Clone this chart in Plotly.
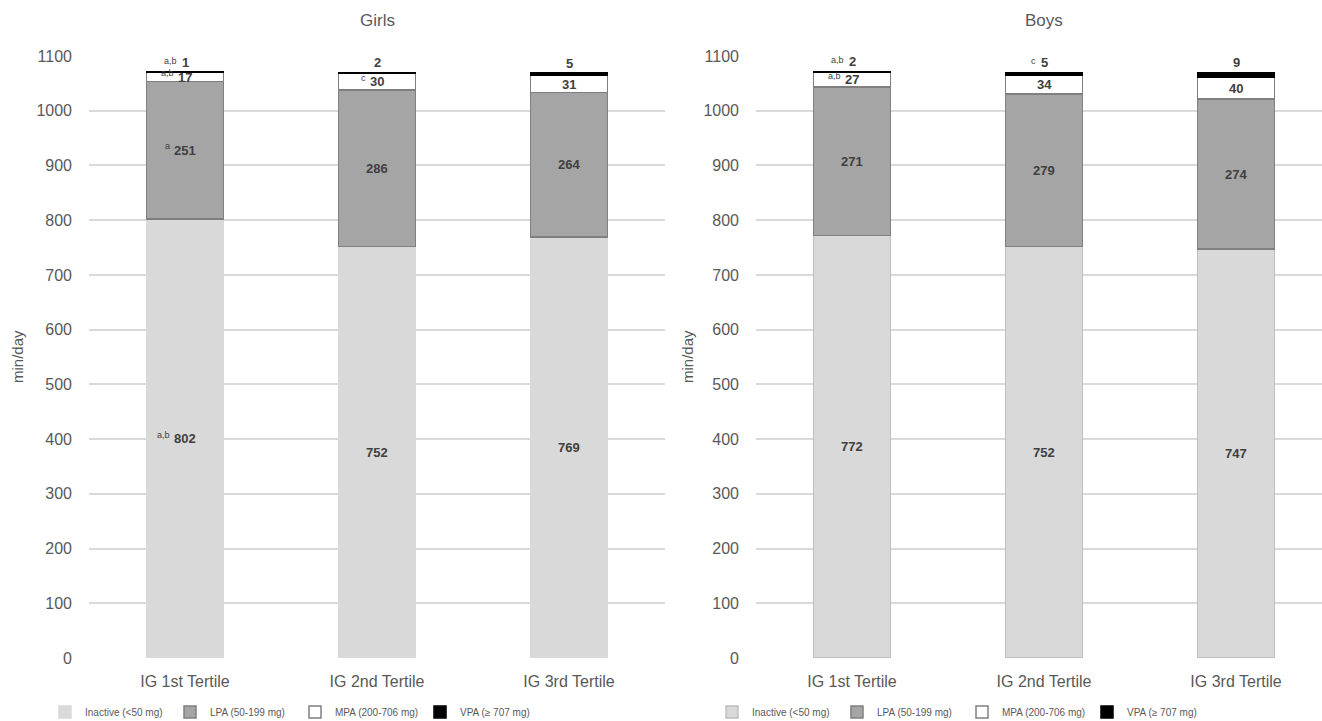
import plotly.graph_objects as go

categories = ["IG 1st Tertile", "IG 2nd Tertile", "IG 3rd Tertile"]
series_names = ["Inactive (&lt;50 mg)", "LPA (50-199 mg)", "MPA (200-706 mg)", "VPA (≥ 707 mg)"]

girls_inactive = [802, 752, 769]
girls_lpa = [251, 286, 264]
girls_mpa = [17, 30, 31]
girls_vpa = [1, 2, 5]

boys_inactive = [772, 752, 747]
boys_lpa = [271, 279, 274]
boys_mpa = [27, 34, 40]
boys_vpa = [2, 5, 9]

girls_sup_inactive = ["a,b", "", ""]
girls_sup_lpa = ["a", "", ""]
girls_sup_mpa = ["a,b", "c", ""]
girls_sup_vpa = ["a,b", "", ""]

boys_sup_inactive = ["", "", ""]
boys_sup_lpa = ["", "", ""]
boys_sup_mpa = ["a,b", "", ""]
boys_sup_vpa = ["a,b", "c", ""]

y_ticks = list(range(0, 1101, 100))

W, H = 1322, 721
FONT = "Liberation Sans, Arial, sans-serif"
GREY_TXT = "#595959"
LBL = "#404040"

fills = ["#d9d9d9", "#a5a5a5", "#ffffff", "#000000"]
lines_g = ["#d9d9d9", "#7f7f7f", "#7f7f7f", "#000000"]
lines_b = ["#bfbfbf", "#7f7f7f", "#7f7f7f", "#000000"]

fig = go.Figure()

panels = [
    ("x", "y", "legend", [girls_inactive, girls_lpa, girls_mpa, girls_vpa],
     [girls_sup_inactive, girls_sup_lpa, girls_sup_mpa, girls_sup_vpa], lines_g),
    ("x2", "y2", "legend2", [boys_inactive, boys_lpa, boys_mpa, boys_vpa],
     [boys_sup_inactive, boys_sup_lpa, boys_sup_mpa, boys_sup_vpa], lines_b),
]

annotations = []
for xa, ya, leg, series, sups, lcols in panels:
    for i, vals in enumerate(series):
        fig.add_trace(go.Bar(
            x=categories, y=vals, name=series_names[i], xaxis=xa, yaxis=ya,
            legend=leg,
            marker=dict(color=fills[i], line=dict(color=lcols[i], width=1.5)),
            hoverinfo="y+name",
        ))
    for j, cat in enumerate(categories):
        base = 0
        for i, vals in enumerate(series):
            v = vals[j]
            top_lbl = (i == len(series) - 1)
            if top_lbl:
                ypos, yanc = base + v, "bottom"
            else:
                ypos, yanc = base + v / 2, "middle"
            txt = str(v)
            annotations.append(dict(
                x=cat, y=ypos, xref=xa, yref=ya, text="<b>%s</b>" % txt,
                showarrow=False, yanchor=yanc,
                font=dict(family=FONT, size=13, color=LBL),
            ))
            s = sups[i][j]
            if s:
                half = 3.7 * len(txt)
                annotations.append(dict(
                    x=cat, y=ypos, xref=xa, yref=ya, text=s,
                    showarrow=False, yanchor=yanc, xanchor="right",
                    xshift=-(half + 2), yshift=4,
                    font=dict(family=FONT, size=9, color=LBL),
                ))
            base += v

x1_dom = [89 / W, 665 / W]
x2_dom = [756 / W, 1.0]
y_dom = [63 / H, 665 / H]

annotations += [
    dict(x=(x1_dom[0] + x1_dom[1]) / 2, y=(H - 21) / H, xref="paper", yref="paper",
         xanchor="center", yanchor="middle",
         text="Girls", showarrow=False, font=dict(family=FONT, size=17, color=GREY_TXT)),
    dict(x=(756 + 1332) / 2 / W, y=(H - 21) / H, xref="paper", yref="paper",
         xanchor="center", yanchor="middle",
         text="Boys", showarrow=False, font=dict(family=FONT, size=17, color=GREY_TXT)),
    dict(x=17 / W, y=(H - 357) / H, xref="paper", yref="paper", text="min/day",
         xanchor="center", yanchor="middle",
         textangle=-90, showarrow=False, font=dict(family=FONT, size=15, color=GREY_TXT)),
    dict(x=687 / W, y=(H - 357) / H, xref="paper", yref="paper", text="min/day",
         xanchor="center", yanchor="middle",
         textangle=-90, showarrow=False, font=dict(family=FONT, size=15, color=GREY_TXT)),
]

axis_common_y = dict(
    range=[0, 1100], tickvals=y_ticks, showgrid=True, gridcolor="#d9d9d9", gridwidth=1.5,
    zeroline=False, showline=False, ticks="", ticklabelstandoff=16,
    tickfont=dict(family=FONT, size=16, color=GREY_TXT), domain=y_dom, automargin=False,
    fixedrange=True,
)
axis_common_x = dict(
    type="category", showgrid=False, zeroline=False, showline=False, ticks="",
    ticklabelstandoff=12, tickfont=dict(family=FONT, size=16, color=GREY_TXT),
    automargin=False, fixedrange=True,
)

legend_common = dict(
    orientation="h", yanchor="middle", xanchor="left", y=9 / H,
    font=dict(family="Liberation Sans Narrow, Arial Narrow, " + FONT, size=10, color=GREY_TXT),
    itemwidth=30, bgcolor="rgba(0,0,0,0)", traceorder="normal",
    entrywidth=80, entrywidthmode="pixels",
)

fig.update_layout(
    width=W, height=H, margin=dict(l=0, r=0, t=0, b=0, autoexpand=False),
    paper_bgcolor="white", plot_bgcolor="white",
    barmode="stack", bargap=0.6,
    xaxis=dict(domain=x1_dom, anchor="y", range=[-0.5, 2.5], **axis_common_x),
    yaxis=dict(anchor="x", **axis_common_y),
    xaxis2=dict(domain=x2_dom, anchor="y2", range=[-0.5, -0.5 + (W - 756) / 192], **axis_common_x),
    yaxis2=dict(anchor="x2", **axis_common_y),
    legend=dict(x=45 / W, **legend_common),
    legend2=dict(x=712 / W, **legend_common),
    annotations=annotations,
    showlegend=True,
)

fig.write_html("out.html", config={"displayModeBar": False},
               post_script="document.body.style.margin='0';")
